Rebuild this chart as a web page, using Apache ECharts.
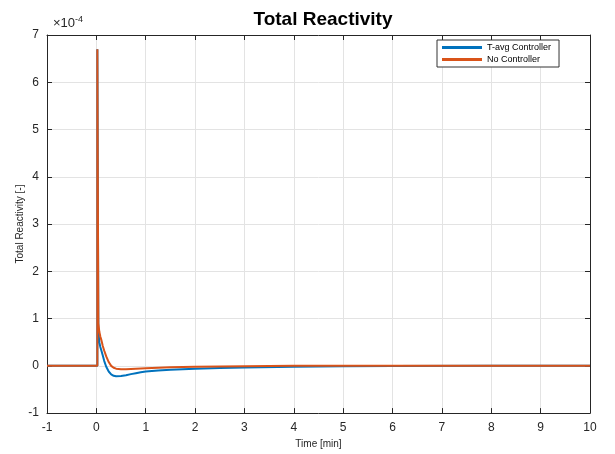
<!DOCTYPE html>
<html><head><meta charset="utf-8">
<script src="https://cdn.jsdelivr.net/npm/echarts@6/dist/echarts.min.js"></script>
<style>html,body{margin:0;padding:0;background:#fff}#c{width:615px;height:454px}</style>
</head><body><div id="c"></div>
<script>
// Time [min]
var timeMin = [-1, 0.02, 0.02, 0.04, 0.06, 0.08, 0.1, 0.13, 0.16, 0.2, 0.25, 0.3, 0.35, 0.4, 0.5, 0.6, 0.7, 0.8, 0.9, 1, 1.25, 1.5, 2, 2.5, 3, 4, 5, 6, 8, 10];
// Total reactivity in units of 1e-4
var noController   = [0, 0, 6.7, 0.9, 0.72, 0.62, 0.55, 0.42, 0.32, 0.2, 0.08, 0.0, -0.04, -0.06, -0.07, -0.07, -0.065, -0.06, -0.055, -0.05, -0.04, -0.03, -0.02, -0.015, -0.01, 0, 0, 0, 0, 0];
var tavgController = [0, 0, 6.7, 0.75, 0.5, 0.4, 0.33, 0.22, 0.1, -0.02, -0.12, -0.18, -0.21, -0.22, -0.215, -0.2, -0.175, -0.155, -0.135, -0.12, -0.1, -0.085, -0.063, -0.047, -0.035, -0.02, -0.01, -0.005, 0, 0];
var seriesNames = ['T-avg Controller', 'No Controller'];

function pairs(xs, ys){ return xs.map(function(x,i){ return [x, ys[i]]; }); }

var axisCol = '#262626';
var gridCol = '#e3e3e3';
var font = 'Liberation Sans, Arial, sans-serif';

var chart = echarts.init(document.getElementById('c'));
var baseX = {
  type: 'value', min: -1, max: 10, interval: 1,
  axisLine: { show: true, onZero: false, lineStyle: { color: axisCol, width: 1 } },
  axisTick: { show: true, inside: true, length: 5, lineStyle: { color: axisCol } },
  splitLine: { show: false }
};
var baseY = {
  type: 'value', min: -1, max: 7, interval: 1,
  axisLine: { show: true, onZero: false, lineStyle: { color: axisCol, width: 1 } },
  axisTick: { show: true, inside: true, length: 5, lineStyle: { color: axisCol } },
  splitLine: { show: false }
};
chart.setOption({
  animation: false,
  backgroundColor: '#fff',
  title: {
    text: 'Total Reactivity', left: 318, top: 5, textAlign: 'center',
    textStyle: { fontFamily: font, fontSize: 19, fontWeight: 'bold', color: '#000' }
  },
  grid: { left: 47, right: 25, top: 35, bottom: 38 },
  legend: {
    data: seriesNames, orient: 'vertical', left: 437, top: 40,
    itemWidth: 40, itemHeight: 3, itemGap: 3, icon: 'rect',
    backgroundColor: '#fff', borderColor: '#333', borderWidth: 1,
    padding: [3, 8, 3, 5],
    textStyle: { fontFamily: font, fontSize: 9, color: '#000' }
  },
  xAxis: [
    Object.assign({}, baseX, {
      position: 'bottom',
      name: 'Time [min]', nameLocation: 'middle', nameGap: 22,
      nameTextStyle: { fontFamily: font, fontSize: 10, color: axisCol },
      axisLabel: { fontFamily: font, fontSize: 12, color: axisCol, margin: 9 },
      splitLine: { show: true, lineStyle: { color: gridCol, width: 1 } }
    }),
    Object.assign({}, baseX, { position: 'top', axisLabel: { show: false } })
  ],
  yAxis: [
    Object.assign({}, baseY, {
      position: 'left',
      name: 'Total Reactivity [-]', nameLocation: 'middle', nameGap: 22, nameMoveOverlap: false,
      nameTextStyle: { fontFamily: font, fontSize: 10, color: axisCol },
      axisLabel: { fontFamily: font, fontSize: 12, color: axisCol, margin: 8 },
      splitLine: { show: true, lineStyle: { color: gridCol, width: 1 } }
    }),
    Object.assign({}, baseY, { position: 'right', axisLabel: { show: false } })
  ],
  graphic: [{
    type: 'text', left: 53, top: 15,
    style: {
      text: '{a|\u00d710}{b|-4}',
      rich: {
        a: { fontFamily: font, fontSize: 13, fill: axisCol },
        b: { fontFamily: font, fontSize: 9, fill: axisCol, verticalAlign: 'top', padding: [0, 0, 7, 0] }
      }
    }
  }],
  series: [
    { name: seriesNames[0], type: 'line', data: pairs(timeMin, tavgController), showSymbol: false,
      lineStyle: { color: '#0072BD', width: 2 }, itemStyle: { color: '#0072BD' }, z: 2 },
    { name: seriesNames[1], type: 'line', data: pairs(timeMin, noController), showSymbol: false,
      lineStyle: { color: '#D95319', width: 2 }, itemStyle: { color: '#D95319' }, z: 3 }
  ]
});
</script>
</body></html>
